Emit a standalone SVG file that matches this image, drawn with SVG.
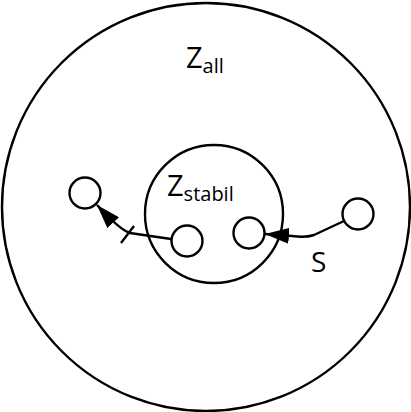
<svg xmlns="http://www.w3.org/2000/svg" width="411" height="412" viewBox="0 0 411 412">
<defs>
<style>
.c{fill:none;stroke:#000;stroke-width:2.4}
.e{fill:none;stroke:#000;stroke-width:2.4}
.t{font-family:"Open Sans","DejaVu Sans",sans-serif;fill:#000}
</style>
<marker id="ah" viewBox="0 0 24 16" refX="24" refY="8" markerWidth="24" markerHeight="16" markerUnits="userSpaceOnUse" orient="auto">
<path d="M0,0 L24,8 L0,16 Z" fill="#000"/>
</marker>
</defs>
<g id="all"><circle class="c" cx="206" cy="207" r="204"/>
<text class="t" x="186" y="68" font-size="29">Z<tspan font-size="20" dy="5">all</tspan></text></g>
<g id="stabil"><circle class="c" cx="214" cy="214" r="69"/>
<text class="t" x="167" y="196" font-size="29">Z<tspan font-size="20" dy="5">stabil</tspan></text></g>
<g id="n1"><circle class="c" cx="85" cy="193" r="15.5"/></g>
<g id="n2"><circle class="c" cx="187" cy="241" r="15.5"/></g>
<g id="n3"><circle class="c" cx="249" cy="233" r="15.5"/></g>
<g id="n4"><circle class="c" cx="358" cy="214" r="15.5"/></g>
<g id="edges">
<path class="e" d="M171,239 L130,233 Q120,230 97,205" marker-end="url(#ah)"/>
<line class="e" x1="121" y1="243" x2="134" y2="226"/>
<path class="e" d="M344,221 L314,235 Q305,238 292,236 L265,234" marker-end="url(#ah)"/>
<text class="t" x="311" y="272" font-size="28">S</text>
</g>
</svg>
